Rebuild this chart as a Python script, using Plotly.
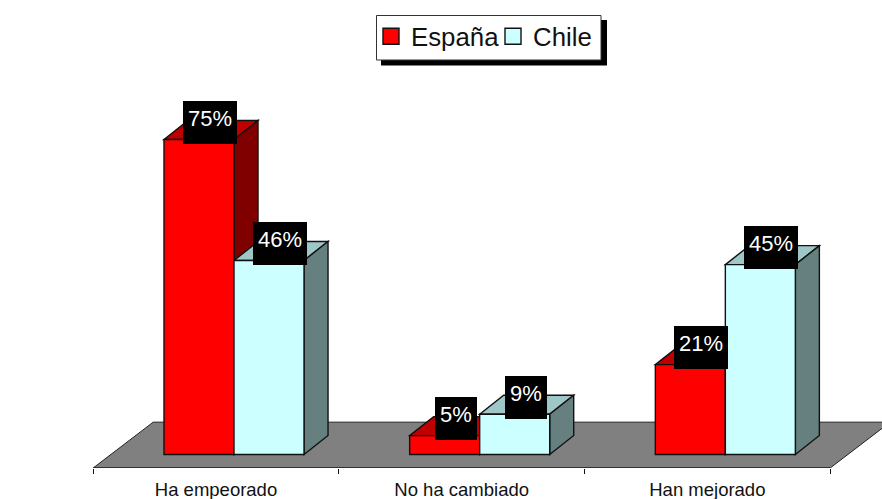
import plotly.graph_objects as go

categories = ["Ha empeorado", "No ha cambiado", "Han mejorado"]
espana = [75, 4.5, 21.4]
chile = [46.2, 9.6, 45.2]
espana_labels = ["75%", "5%", "21%"]
chile_labels = ["46%", "9%", "45%"]
series_names = ["España", "Chile"]

W, H = 882, 499
BOTTOM = 31
PX_X = 245.67      # px per category
PX_Y = 4.2         # px per value unit
X0_PX = 216        # px of first category centre
Y0_PX = 454.5      # px of value 0
plot_h = H - BOTTOM
xr = [-X0_PX / PX_X, (W - X0_PX) / PX_X]
yr = [-(plot_h - Y0_PX) / PX_Y, Y0_PX / PX_Y]

DX = 24 / PX_X
DY = 19 / PX_Y
OFFS = [-0.2117, 0.0733]
BW = 0.2850

styles = [
    dict(front="#FF0000", top="#C00000", side="#800000"),
    dict(front="#CCFFFF", top="#9FC7C7", side="#668080"),
]
LINE = dict(color="#111111", width=1.4)


def poly(pts, fill, line=LINE):
    p = "M " + " L ".join(f"{x:.4f},{y:.4f}" for x, y in pts) + " Z"
    return dict(type="path", path=p, xref="x", yref="y", fillcolor=fill,
                line=line, layer="below")


fig = go.Figure()
shapes = []

# floor
f_front = yr[0]
f_back = 7.7
f_shift = 60 / PX_X
shapes.append(poly([(-0.5, f_front), (2.5, f_front), (2.5 + f_shift, f_back), (-0.5 + f_shift, f_back)],
                   "#808080", dict(color="#222222", width=1)))

annotations = []
for s, (vals, labels) in enumerate([(espana, espana_labels), (chile, chile_labels)]):
    st = styles[s]
    fig.add_bar(
        x=categories, y=vals, name=series_names[s], showlegend=False,
        width=BW, offset=OFFS[s],
        marker=dict(color=st["front"], line=dict(color="#111111", width=1.4)),
    )
    fig.add_scatter(
        x=[None], y=[None], mode="markers", name=series_names[s],
        marker=dict(symbol="square", size=16, color=st["front"],
                    line=dict(color="#111111", width=1.4)),
    )
    for i, v in enumerate(vals):
        l = i + OFFS[s]
        r = l + BW
        shapes.append(poly([(l, v), (r, v), (r + DX, v + DY), (l + DX, v + DY)], st["top"]))
        shapes.append(poly([(r, 0), (r + DX, DY), (r + DX, v + DY), (r, v)], st["side"]))
        annotations.append(dict(
            x=(l + r) / 2 + 11 / PX_X, y=v + 17 / PX_Y, xref="x", yref="y",
            text=labels[i], showarrow=False, xanchor="center", yanchor="middle",
            bgcolor="#000000", borderpad=5, borderwidth=0, valign="top",
            height=33, width=44 if len(labels[i]) > 2 else 32,
            font=dict(color="#FFFFFF", size=22, family="Liberation Sans"),
        ))

# front edge of the axis
shapes.append(dict(type="line", xref="x", yref="y", x0=-0.5, x1=2.5, y0=f_front, y1=f_front,
                   line=dict(color="#111111", width=1.2), layer="above"))
# legend shadow and box
shapes.append(dict(type="rect", xref="paper", yref="paper", x0=381 / W, x1=607 / W,
                   y0=1 - 65.5 / plot_h, y1=1 - 20 / plot_h,
                   fillcolor="#000000", line=dict(width=0), layer="above"))
shapes.append(dict(type="rect", xref="paper", yref="paper", x0=376.5 / W, x1=601 / W,
                   y0=1 - 60 / plot_h, y1=1 - 15.5 / plot_h,
                   fillcolor="#FFFFFF", line=dict(color="#333333", width=1), layer="above"))

fig.update_layout(
    width=W, height=H, autosize=False,
    margin=dict(l=0, r=0, t=0, b=BOTTOM, autoexpand=False),
    paper_bgcolor="white", plot_bgcolor="white",
    barmode="overlay",
    font=dict(family="Liberation Sans", color="#111111"),
    shapes=shapes, annotations=annotations,
    legend=dict(
        orientation="h", x=371 / W, y=1 - 13 / plot_h, xanchor="left", yanchor="top",
        bgcolor="rgba(0,0,0,0)", borderwidth=0,
        entrywidthmode="pixels", entrywidth=77,
        font=dict(size=25.8, family="Liberation Sans", color="#111111"),
    ),
    xaxis=dict(type="category", categoryorder="array", categoryarray=categories,
               range=xr, tickson="boundaries", ticks="outside", ticklen=5, tickcolor="#111111",
               tickwidth=1, showgrid=False, zeroline=False, showline=False, ticklabelstandoff=8,
               tickfont=dict(size=18.5, family="Liberation Sans", color="#111111")),
    yaxis=dict(range=yr, visible=False, showgrid=False, zeroline=False),
)

fig.write_html("out.html", config=dict(displayModeBar=False),
               post_script="document.body.style.margin='0';document.body.style.overflow='hidden';")
